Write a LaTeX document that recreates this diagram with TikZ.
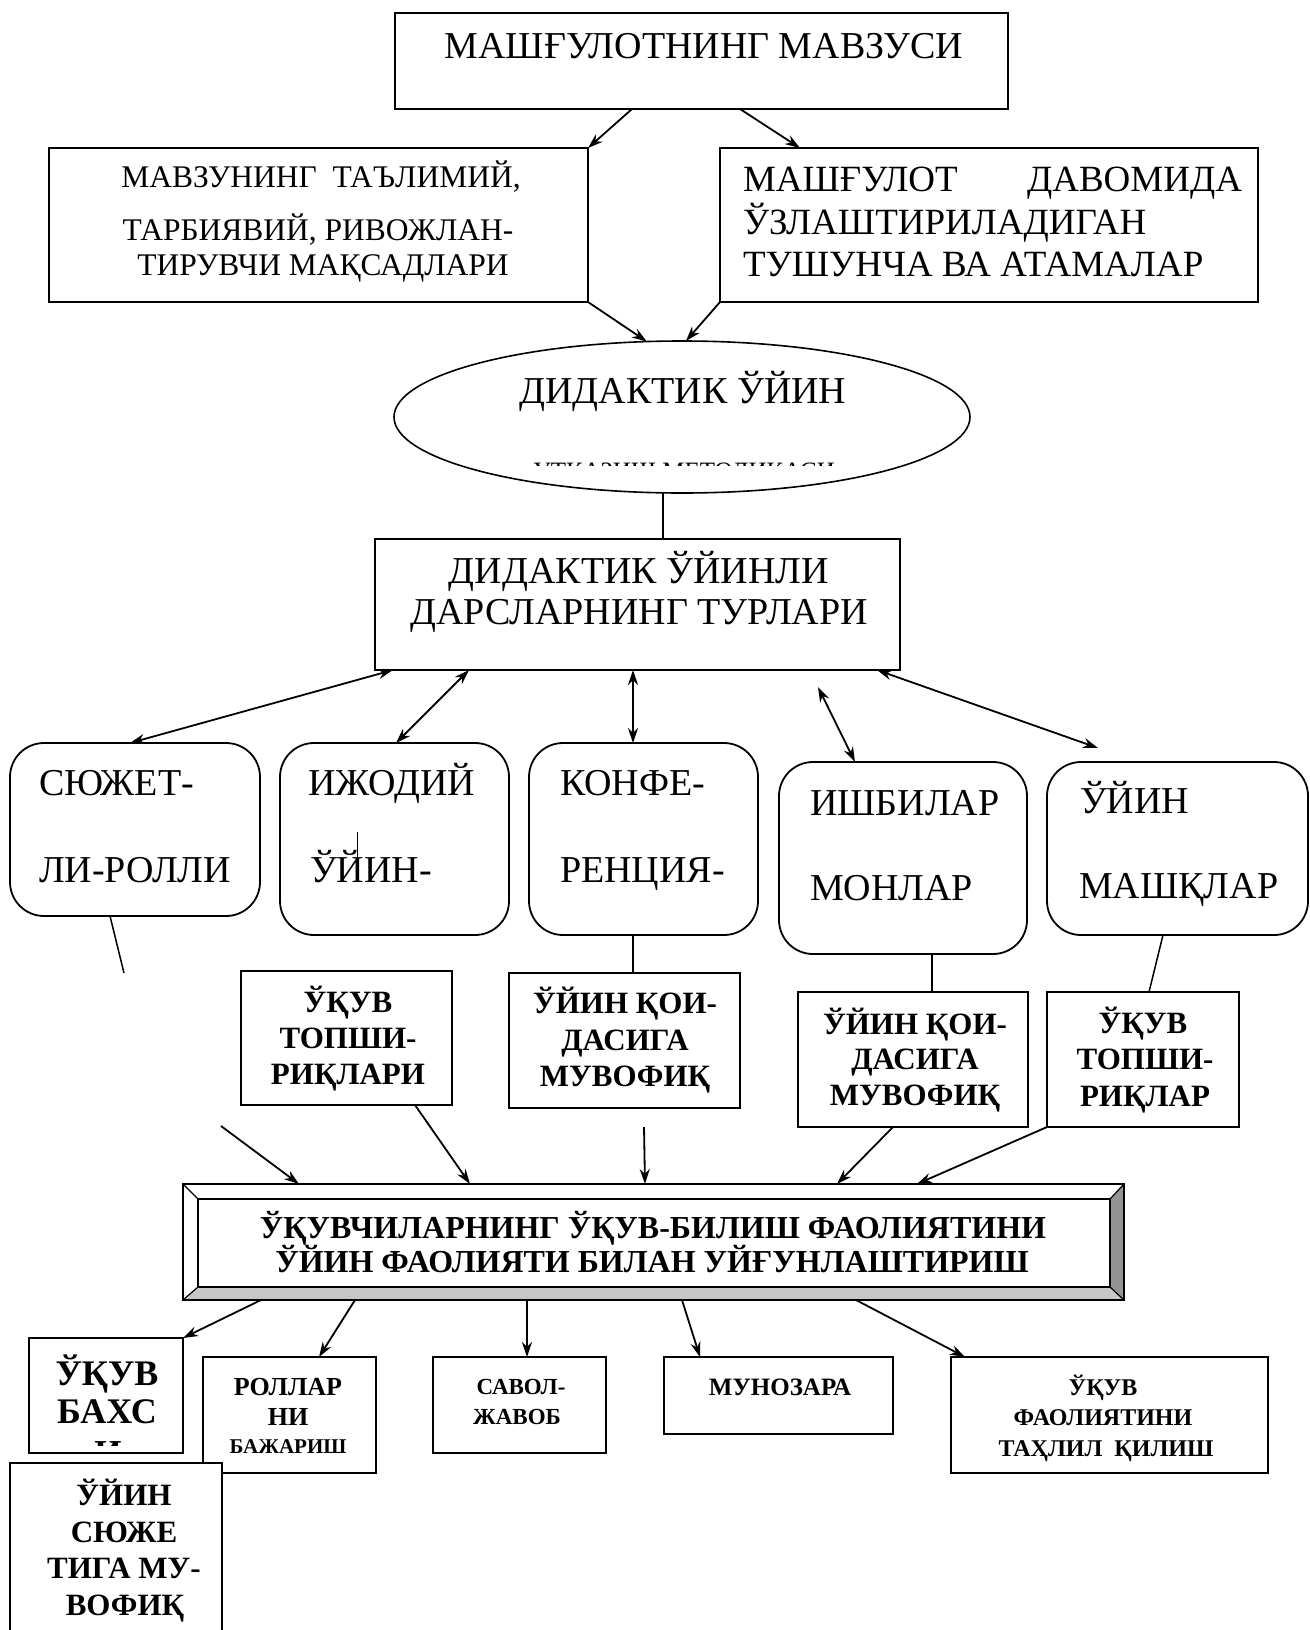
\documentclass[tikz,border=0pt]{standalone}
\usepackage{fontspec}
\setmainfont{Liberation Serif}
\usetikzlibrary{arrows.meta,shapes.geometric,calc}
\newcommand\fsz[1]{\fontsize{#1}{#1}\selectfont}
\begin{document}
\begin{tikzpicture}[x=1pt,y=-1pt,
  box/.style={draw, line width=1.8pt, rectangle, inner sep=0pt, outer sep=0pt, fill=white},
  rbox/.style={box, rounded corners=34pt},
  txt/.style={inner sep=0pt, outer sep=0pt, anchor=base, font=\fsz{38}},
  txtw/.style={txt, anchor=base west},
  txte/.style={txt, anchor=base east},
  btxt/.style={txt, font=\fsz{31}\bfseries},
  arr/.style={line width=1.8pt, -{Stealth[length=15pt,width=10pt]}},
  darr/.style={line width=1.8pt, {Stealth[length=15pt,width=10pt]}-{Stealth[length=15pt,width=10pt]}},
  ln/.style={line width=1.5pt}
]
\useasboundingbox (0,0) rectangle (1309,1630);
\fill[white] (0,0) rectangle (1309,1630);

% ---------- top ----------
\node[box, minimum width=613pt, minimum height=96pt] (top) at (701.5,61) {};
\node[txt] (toptxt) at (704,58) {МАШҒУЛОТНИНГ МАВЗУСИ};

\node[box, minimum width=539pt, minimum height=154pt] (lbox) at (318.5,225) {};
\node[txt, font=\fsz{31.5}] (l1) at (321,187) {МАВЗУНИНГ\ \ ТАЪЛИМИЙ,};
\node[txt, font=\fsz{31.5}] (l2) at (318,240) {ТАРБИЯВИЙ, РИВОЖЛАН-};
\node[txt, font=\fsz{31.5}] (l3) at (323,275) {ТИРУВЧИ МАҚСАДЛАРИ};

\node[box, minimum width=538pt, minimum height=154pt] (rbox) at (989,225) {};
\node[txtw, font=\fsz{37}] (ra) at (743,191) {МАШҒУЛОТ};
\node[txte, font=\fsz{37}] (rb) at (1242,191) {ДАВОМИДА};
\node[txtw, font=\fsz{37}] (rc) at (743,234) {ЎЗЛАШТИРИЛАДИГАН};
\node[txtw, font=\fsz{37}] (rd) at (743,276) {ТУШУНЧА ВА АТАМАЛАР};

\draw[arr] ([xshift=237pt]top.south west) -- (lbox.north east);
\draw[arr] ([xshift=345pt]top.south west) -- ([xshift=80pt]rbox.north west);

% ---------- ellipse ----------
\node[draw, ellipse, line width=1.6pt, inner sep=0pt, outer sep=0pt,
      minimum width=576pt, minimum height=152pt] (ell) at (682,417) {};
\node[txt] (elltxt) at (683,403) {ДИДАКТИК ЎЙИН};
\begin{scope}
  \clip (528,462.5) rectangle (842,465.5);
  \node[txt, font=\fsz{25}] (elltail) at (684,479.5) {ЎТКАЗИШ МЕТОДИКАСИ};
\end{scope}

\draw[arr] (lbox.south east) -- (ell.115);
\draw[arr] (rbox.south west) -- (ell.87);

% ---------- types box ----------
\node[box, minimum width=525pt, minimum height=131pt] (dbox) at (637.5,604.5) {};
\node[txt] (dt1) at (639,583) {ДИДАКТИК ЎЙИНЛИ};
\node[txt] (dt2) at (639,624) {ДАРСЛАРНИНГ ТУРЛАРИ};
\draw[ln] ([xshift=-19pt]ell.south) -- ([xshift=25.5pt]dbox.north);

% ---------- rounded boxes ----------
\node[rbox, minimum width=250pt, minimum height=173pt] (r1) at (135,829.5) {};
\node[txtw] (r1a) at (39,795) {СЮЖЕТ-};
\node[txtw] (r1b) at (39,882) {ЛИ-РОЛЛИ};

\node[rbox, minimum width=229pt, minimum height=192pt] (r2) at (394.5,839) {};
\node[txtw] (r2a) at (308,795) {ИЖОДИЙ};
\node[txtw] (r2b) at (310,882) {ЎЙИН-};
\coordinate (cur1) at (357,832);
\coordinate (cur2) at (357,863);
\draw[line width=1pt] (cur1) -- (cur2);

\node[rbox, minimum width=229pt, minimum height=192pt] (r3) at (643.5,839) {};
\node[txtw] (r3a) at (560,795) {КОНФЕ-};
\node[txtw] (r3b) at (560,882) {РЕНЦИЯ-};

\node[rbox, minimum width=248pt, minimum height=192pt] (r4) at (903,858) {};
\node[txtw] (r4a) at (810,815) {ИШБИЛАР};
\node[txtw] (r4b) at (810,900) {МОНЛАР};

\node[rbox, minimum width=261pt, minimum height=173pt] (r5) at (1177.5,848.5) {};
\node[txtw] (r5a) at (1080,813) {ЎЙИН};
\node[txtw] (r5b) at (1079,898) {МАШҚЛАР};

\coordinate (d4s) at (818,687);
\coordinate (d5e) at (1098,748);
\draw[darr] ([xshift=18pt]dbox.south west) -- ([xshift=120pt]r1.north west);
\draw[darr] ([xshift=94pt]dbox.south west) -- ([xshift=116pt]r2.north west);
\draw[darr] ([xshift=258pt]dbox.south west) -- ([xshift=104pt]r3.north west);
\draw[darr] (d4s) -- ([xshift=76pt]r4.north west);
\draw[darr] ([xshift=-23pt]dbox.south east) -- (d5e);

% ---------- bold boxes ----------
\node[box, minimum width=211pt, minimum height=134pt] (b1) at (346.5,1038) {};
\node[btxt] (b1a) at (348,1012) {ЎҚУВ};
\node[btxt] (b1b) at (348,1048) {ТОПШИ-};
\node[btxt] (b1c) at (348,1084) {РИҚЛАРИ};

\node[box, minimum width=231pt, minimum height=135pt] (b2) at (624.5,1040.5) {};
\node[btxt] (b2a) at (625,1013) {ЎЙИН ҚОИ-};
\node[btxt] (b2b) at (625,1050) {ДАСИГА};
\node[btxt] (b2c) at (625,1086) {МУВОФИҚ};

\node[box, minimum width=230pt, minimum height=135pt] (b3) at (913,1059.5) {};
\node[btxt] (b3a) at (915,1034) {ЎЙИН ҚОИ-};
\node[btxt] (b3b) at (915,1069) {ДАСИГА};
\node[btxt] (b3c) at (915,1105) {МУВОФИҚ};

\node[box, minimum width=192pt, minimum height=135pt] (b4) at (1143,1059.5) {};
\node[btxt] (b4a) at (1143,1033) {ЎҚУВ};
\node[btxt] (b4b) at (1145,1069) {ТОПШИ-};
\node[btxt] (b4c) at (1145,1106) {РИҚЛАР};

\coordinate (l2e) at (124,973);
\draw[ln] ([xshift=100pt]r1.south west) -- (l2e);
\draw[ln] ([xshift=104pt]r3.south west) -- ([xshift=124pt]b2.north west);
\draw[ln] ([xshift=153pt]r4.south west) -- ([xshift=134pt]b3.north west);
\draw[ln] ([xshift=116pt]r5.south west) -- ([xshift=102pt]b4.north west);

% ---------- bevel box ----------
\node[box, minimum width=941pt, minimum height=116pt] (bev) at (653.5,1242) {};
\fill[black!22] (183,1300) -- (198,1287) -- (1110,1287) -- (1124,1300) -- cycle;
\fill[black!42] (1124,1184) -- (1110,1199) -- (1110,1287) -- (1124,1300) -- cycle;
\draw[line width=1.2pt] (183,1184) -- (198,1199) (1124,1184) -- (1110,1199)
   (183,1300) -- (198,1287) (1124,1300) -- (1110,1287);
\draw[line width=1.8pt] (198,1199) rectangle (1110,1287);
\draw[line width=1.8pt] (183,1184) rectangle (1124,1300);
\node[txt, font=\fsz{32}\bfseries] (bt1) at (653,1238) {ЎҚУВЧИЛАРНИНГ ЎҚУВ-БИЛИШ ФАОЛИЯТИНИ};
\node[txt, font=\fsz{32}\bfseries] (bt2) at (652,1272) {ЎЙИН ФАОЛИЯТИ БИЛАН УЙҒУНЛАШТИРИШ};

\coordinate (c1s) at (221,1126);
\coordinate (c3s) at (644,1127);
\draw[arr] (c1s) -- ([xshift=116pt]bev.north west);
\draw[arr] ([xshift=174pt]b1.south west) -- ([xshift=287pt]bev.north west);
\draw[arr] (c3s) -- ([xshift=462pt]bev.north west);
\draw[arr] ([xshift=95pt]b3.south west) -- ([xshift=654pt]bev.north west);
\draw[arr] (b4.south west) -- ([xshift=734pt]bev.north west);

% ---------- bottom boxes ----------
\node[box, minimum width=154pt, minimum height=115pt] (k1) at (106,1395.5) {};
\node[txt, font=\fsz{36}\bfseries] (k1a) at (107,1385) {ЎҚУВ};
\node[txt, font=\fsz{36}\bfseries] (k1b) at (107,1423) {БАХС};
\begin{scope}
  \clip (31,1440) rectangle (181,1445);
  \node[txt, font=\fsz{35}\bfseries] (k1c) at (108,1464) {И};
\end{scope}

\node[box, minimum width=173pt, minimum height=116pt] (k2) at (289.5,1415) {};
\node[txt, font=\fsz{26}\bfseries] (k2a) at (288,1395) {РОЛЛАР};
\node[txt, font=\fsz{26}\bfseries] (k2b) at (288,1425) {НИ};
\node[txt, font=\fsz{21}\bfseries] (k2c) at (288,1453) {БАЖАРИШ};

\node[box, minimum width=173pt, minimum height=96pt] (k3) at (519.5,1405) {};
\node[txt, font=\fsz{23}\bfseries] (k3a) at (521,1394) {САВОЛ-};
\node[txt, font=\fsz{23}\bfseries] (k3b) at (517,1424) {ЖАВОБ};

\node[box, minimum width=229pt, minimum height=77pt] (k4) at (778.5,1395.5) {};
\node[txt, font=\fsz{25}\bfseries] (k4a) at (780,1395) {МУНОЗАРА};

\node[box, minimum width=317pt, minimum height=116pt] (k5) at (1109.5,1415) {};
\node[txt, font=\fsz{24}\bfseries] (k5a) at (1103,1395) {ЎҚУВ};
\node[txt, font=\fsz{24}\bfseries] (k5b) at (1103,1425) {ФАОЛИЯТИНИ};
\node[txt, font=\fsz{24}\bfseries] (k5c) at (1106,1456) {ТАҲЛИЛ\ \ ҚИЛИШ};

\node[box, minimum width=212pt, minimum height=220pt, anchor=north west] (k6) at (10,1463) {};
\node[txt, font=\fsz{31}\bfseries] (k6a) at (124,1505) {ЎЙИН};
\node[txt, font=\fsz{31}\bfseries] (k6b) at (124,1542) {СЮЖЕ};
\node[txt, font=\fsz{31}\bfseries] (k6c) at (124,1578) {ТИГА МУ-};
\node[txt, font=\fsz{31}\bfseries] (k6d) at (125,1615) {ВОФИҚ};

\draw[arr] ([xshift=78pt]bev.south west) -- (k1.north east);
\draw[arr] ([xshift=172pt]bev.south west) -- ([xshift=116pt]k2.north west);
\draw[arr] ([xshift=344pt]bev.south west) -- ([xshift=94pt]k3.north west);
\draw[arr] ([xshift=499pt]bev.south west) -- ([xshift=36pt]k4.north west);
\draw[arr] ([xshift=673pt]bev.south west) -- ([xshift=14pt]k5.north west);
\end{tikzpicture}
\end{document}
